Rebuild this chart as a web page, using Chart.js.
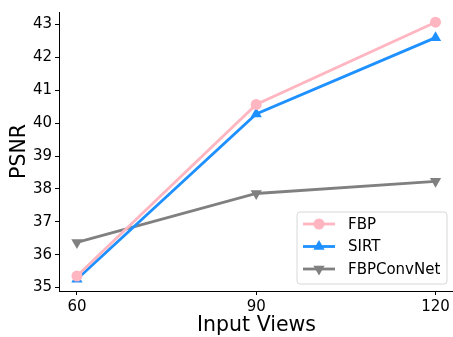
<!DOCTYPE html>
<html><head><meta charset="utf-8">
<script src="https://cdn.jsdelivr.net/npm/chart.js@4"></script>
<style>html,body{margin:0;padding:0;background:#fff}#wrap{width:453px;height:337px}</style>
</head><body><div id="wrap"><canvas id="c" width="453" height="337"></canvas></div>
<script>
const views = [60, 90, 120];
const fbp = [35.35, 40.57, 43.07];
const sirt = [35.25, 40.28, 42.6];
const fbpconvnet = [36.37, 37.86, 38.23];
const yTicks = [35, 36, 37, 38, 39, 40, 41, 42, 43];
const seriesNames = ['FBP', 'SIRT', 'FBPConvNet'];
const xTitle = 'Input Views';
const yTitle = 'PSNR';

const FONT = "'DejaVu Sans', sans-serif";
function pts(vals){ return views.map((v,i)=>({x:v,y:vals[i]})); }

const decoPlugin = {
  id: 'mplDeco',
  afterDraw(chart){
    const ctx = chart.ctx;
    const a = chart.chartArea;
    ctx.save();
    // extend bottom spine to the canvas edge (matplotlib axis reaches further right)
    ctx.strokeStyle = '#000'; ctx.lineWidth = 1;
    ctx.beginPath(); ctx.moveTo(a.right, a.bottom + 0.5); ctx.lineTo(chart.width, a.bottom + 0.5); ctx.stroke();
    // x-axis title centred on the full axis
    ctx.fillStyle = '#000';
    ctx.font = '20.5px ' + FONT;
    ctx.textAlign = 'center'; ctx.textBaseline = 'middle';
    ctx.fillText(xTitle, (a.left + chart.width + 1) / 2, 326);
    // legend
    const x0 = 297, y0 = 212, w = 150, h = 72;
    ctx.fillStyle = 'rgba(255,255,255,0.85)';
    ctx.strokeStyle = '#d8d8d8';
    ctx.lineWidth = 1;
    const r = 3;
    ctx.beginPath();
    ctx.moveTo(x0+r,y0); ctx.lineTo(x0+w-r,y0); ctx.arcTo(x0+w,y0,x0+w,y0+r,r);
    ctx.lineTo(x0+w,y0+h-r); ctx.arcTo(x0+w,y0+h,x0+w-r,y0+h,r);
    ctx.lineTo(x0+r,y0+h); ctx.arcTo(x0,y0+h,x0,y0+h-r,r);
    ctx.lineTo(x0,y0+r); ctx.arcTo(x0,y0,x0+r,y0,r);
    ctx.closePath(); ctx.fill(); ctx.stroke();
    chart.data.datasets.forEach((ds,i)=>{
      const cy = y0 + 12 + i*22.5;
      ctx.strokeStyle = ds.borderColor;
      ctx.lineWidth = ds.borderWidth;
      ctx.beginPath(); ctx.moveTo(x0+6, cy); ctx.lineTo(x0+38, cy); ctx.stroke();
      ctx.fillStyle = ds.pointBackgroundColor;
      ctx.beginPath();
      Chart.helpers.drawPoint(ctx, {pointStyle: ds.pointStyle, radius: ds.pointRadius, rotation: ds.rotation||0, borderWidth: 0}, x0+22, cy);
      ctx.fillStyle = '#000';
      ctx.font = '15px ' + FONT;
      ctx.textBaseline = 'middle';
      ctx.textAlign = 'left';
      ctx.fillText(ds.label, x0+51, cy+1);
    });
    ctx.restore();
  }
};

new Chart(document.getElementById('c'), {
  type: 'line',
  data: {
    datasets: [
      {label: seriesNames[0], data: pts(fbp), borderColor: '#FFB6C1', backgroundColor:'#FFB6C1', pointBackgroundColor: '#FFB6C1', pointBorderColor:'#FFB6C1', borderWidth: 2.8, pointStyle:'circle', pointRadius: 5.5, pointBorderWidth:0},
      {label: seriesNames[1], data: pts(sirt), borderColor: '#1E90FF', backgroundColor:'#1E90FF', pointBackgroundColor: '#1E90FF', pointBorderColor:'#1E90FF', borderWidth: 2.8, pointStyle:'triangle', pointRadius: 6.5, pointBorderWidth:0},
      {label: seriesNames[2], data: pts(fbpconvnet), borderColor: '#808080', backgroundColor:'#808080', pointBackgroundColor: '#808080', pointBorderColor:'#808080', borderWidth: 2.8, pointStyle:'triangle', rotation: 180, pointRadius: 6.5, pointBorderWidth:0}
    ]
  },
  options: {
    responsive: false, animation: false,
    layout: {padding: {top: 9, right: 0, left: 0, bottom: 0}},
    plugins: {legend: {display: false}, tooltip: {enabled: false}},
    scales: {
      x: {
        type: 'linear', min: 57, max: 121.5,
        afterBuildTicks(s){ s.ticks = views.map(v=>({value:v})); },
        afterFit(s){ s.height = 46; },
        grid: {drawOnChartArea: false, tickLength: 4, color: '#000', tickColor:'#000'},
        border: {color: '#000', width: 1},
        ticks: {color: '#000', font: {family: FONT, size: 15}, padding: 3, maxRotation: 0},
        title: {display: false}
      },
      y: {
        type: 'linear', min: 34.894, max: 43.38,
        afterBuildTicks(s){ s.ticks = yTicks.map(v=>({value:v})); },
        afterFit(s){ s.width = 59; },
        grid: {drawOnChartArea: false, tickLength: 4, color: '#000', tickColor:'#000'},
        border: {color: '#000', width: 1},
        ticks: {color: '#000', font: {family: FONT, size: 15}, padding: 3},
        title: {display: true, text: yTitle, color: '#000', font: {family: FONT, size: 20.5}, padding: {top: 7, bottom: 0}}
      }
    }
  },
  plugins: [decoPlugin]
});
</script>
</body></html>
